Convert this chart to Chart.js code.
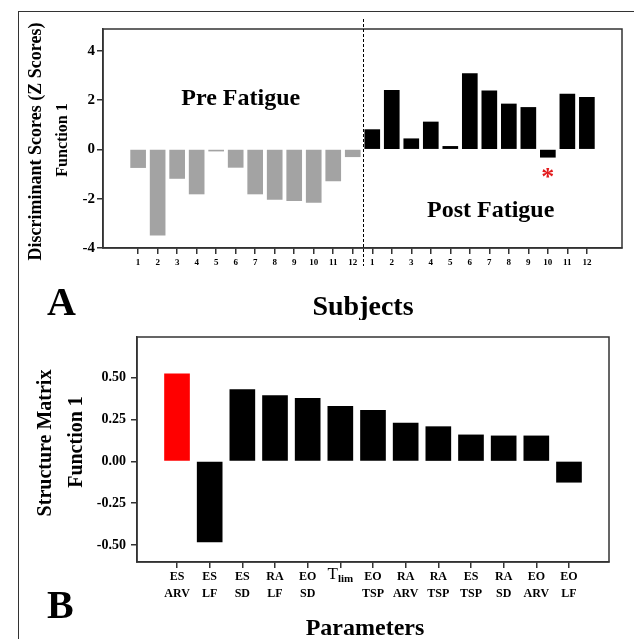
<!DOCTYPE html>
<html>
<head>
<meta charset="utf-8">
<script src="https://cdn.jsdelivr.net/npm/chart.js@4.4.1/dist/chart.umd.min.js"></script>
<style>
  html, body { margin: 0; padding: 0; background: #fff; }
  body { width: 634px; height: 639px; position: relative; overflow: hidden; }
  #frame { position: absolute; left: 18px; top: 11px; width: 700px; height: 700px;
           border-top: 1.5px solid #333; border-left: 1.5px solid #333; }
  canvas { position: absolute; left: 0; }
  #chart-a { top: 0; }
  #chart-b { top: 320px; }
</style>
</head>
<body>
<div id="frame"></div>
<canvas id="chart-a" width="634" height="320"></canvas>
<canvas id="chart-b" width="634" height="319"></canvas>
<script>
const FONT = '"Liberation Serif", "Times New Roman", serif';

// Panel A: discriminant scores per subject
const subjectLabels = ['1', '2', '3', '4', '5', '6', '7', '8', '9', '10', '11', '12'];
const preScores = [-0.74, -3.48, -1.18, -1.81, -0.07, -0.73, -1.81, -2.03, -2.08, -2.15, -1.28, -0.30];
const postScores = [0.80, 2.39, 0.43, 1.11, 0.12, 3.07, 2.37, 1.84, 1.70, -0.32, 2.24, 2.11];
const yTicksA = [-4, -2, 0, 2, 4];
const flaggedPost = 10; // subject marked with the red asterisk

// Panel B: structure matrix
const paramLabels = [
  ['ES', 'ARV'], ['ES', 'LF'], ['ES', 'SD'], ['RA', 'LF'], ['EO', 'SD'], ['T', 'lim'],
  ['EO', 'TSP'], ['RA', 'ARV'], ['RA', 'TSP'], ['ES', 'TSP'], ['RA', 'SD'], ['EO', 'ARV'], ['EO', 'LF']
];
const structureValues = [0.52, -0.48, 0.427, 0.391, 0.375, 0.327, 0.304, 0.228, 0.206, 0.157, 0.151, 0.151, -0.125];
const yTicksB = [-0.5, -0.25, 0, 0.25, 0.5];

const n = subjectLabels.length;
const preX = subjectLabels.map((_, i) => i + 1);
const postX = subjectLabels.map((_, i) => i + 1 + n);
const paramX = paramLabels.map((_, i) => i + 1);

function text(ctx, str, x, y, size, opts = {}) {
  ctx.save();
  ctx.font = `${opts.weight || 'bold'} ${size}px ${FONT}`;
  ctx.fillStyle = opts.color || '#000';
  ctx.textAlign = opts.align || 'center';
  ctx.textBaseline = opts.baseline || 'middle';
  ctx.translate(x, y);
  if (opts.rotate) ctx.rotate(opts.rotate);
  ctx.fillText(str, 0, 0);
  ctx.restore();
}

function frameBox(chart) {
  const { ctx, chartArea: a } = chart;
  ctx.save();
  ctx.strokeStyle = '#333';
  ctx.lineWidth = 1.5;
  ctx.strokeRect(a.left, a.top, a.right - a.left, a.bottom - a.top);
  ctx.restore();
}

const axisCommon = {
  offset: false,
  border: { display: true, color: '#333', width: 1.5 },
  grid: { display: true, offset: false, drawOnChartArea: false, drawTicks: true, tickLength: 6, color: '#333', lineWidth: 1.5 },
};

const panelA = {
  id: 'panelA',
  afterDraw(chart) {
    const { ctx, scales: { x, y } } = chart;
    frameBox(chart);
    // divider between pre and post
    ctx.save();
    ctx.strokeStyle = '#000';
    ctx.lineWidth = 1;
    ctx.setLineDash([3, 2]);
    const dx = Math.round(x.getPixelForValue(n + 0.5)) + 0.5;
    ctx.beginPath();
    ctx.moveTo(dx, 19);
    ctx.lineTo(dx, 266);
    ctx.stroke();
    ctx.restore();

    text(ctx, 'Pre Fatigue', x.getPixelForValue(6.26), y.getPixelForValue(2.04), 24);
    text(ctx, 'Post Fatigue', x.getPixelForValue(19.07), y.getPixelForValue(-2.49), 24);
    text(ctx, '*', x.getPixelForValue(n + flaggedPost), y.getPixelForValue(-0.95) + 6, 26, { color: '#e31a1c' });

    text(ctx, 'Discriminant Scores (Z Scores)', 36, 141.5, 18, { rotate: -Math.PI / 2 });
    text(ctx, 'Function 1', 63, 140, 16, { rotate: -Math.PI / 2 });
    text(ctx, 'A', 47, 315, 40, { align: 'left', baseline: 'alphabetic' });
    text(ctx, 'Subjects', 363, 315, 28, { baseline: 'alphabetic' });
  }
};

const panelB = {
  id: 'panelB',
  afterDraw(chart) {
    const { ctx, scales: { x } } = chart;
    frameBox(chart);
    paramLabels.forEach((lab, i) => {
      if (lab[0] !== 'T') return;
      const px = x.getPixelForValue(paramX[i]);
      ctx.save();
      ctx.font = `normal 17px ${FONT}`;
      const tw = ctx.measureText(lab[0]).width;
      ctx.font = `bold 11px ${FONT}`;
      const sw = ctx.measureText(lab[1]).width;
      ctx.restore();
      const left = px - (tw + sw) / 2;
      text(ctx, lab[0], left, 259, 17, { weight: 'normal', align: 'left', baseline: 'alphabetic' });
      text(ctx, lab[1], left + tw, 262, 11, { align: 'left', baseline: 'alphabetic' });
    });
    text(ctx, 'Structure Matrix', 45.7, 123, 20, { rotate: -Math.PI / 2 });
    text(ctx, 'Function 1', 77, 122, 20, { rotate: -Math.PI / 2 });
    text(ctx, 'B', 47, 298, 40, { align: 'left', baseline: 'alphabetic' });
    text(ctx, 'Parameters', 365, 315, 24, { baseline: 'alphabetic' });
  }
};

new Chart(document.getElementById('chart-a'), {
  type: 'bar',
  data: {
    datasets: [
      {
        label: 'Pre Fatigue',
        data: preScores.map((v, i) => ({ x: preX[i], y: v })),
        backgroundColor: '#a3a3a3',
        barThickness: 15,
        grouped: false,
      },
      {
        label: 'Post Fatigue',
        data: postScores.map((v, i) => ({ x: postX[i], y: v })),
        backgroundColor: '#000',
        barThickness: 15,
        grouped: false,
      },
    ],
  },
  options: {
    responsive: false,
    animation: false,
    layout: { padding: { left: 43, top: 29, right: 12, bottom: 0 } },
    plugins: { legend: { display: false }, title: { display: false }, tooltip: { enabled: false } },
    scales: {
      x: {
        ...axisCommon,
        type: 'linear',
        bounds: 'data',
        min: -0.8,
        max: 2 * n + 1.8,
        afterFit(s) { s.height = 72; },
        afterBuildTicks(s) { s.ticks = preX.concat(postX).map((v) => ({ value: v })); },
        ticks: {
          autoSkip: false,
          maxRotation: 0,
          padding: 3,
          color: '#000',
          font: { family: FONT, size: 9, weight: 'bold' },
          callback: (v) => subjectLabels[(v - 1) % n],
        },
      },
      y: {
        ...axisCommon,
        min: -4,
        max: 4.88,
        afterFit(s) { s.width = 60; },
        afterBuildTicks(s) { s.ticks = yTicksA.map((v) => ({ value: v })); },
        ticks: {
          padding: 2,
          color: '#000',
          font: { family: FONT, size: 15, weight: 'bold' },
          callback: (v) => String(v),
        },
      },
    },
  },
  plugins: [panelA],
});

new Chart(document.getElementById('chart-b'), {
  type: 'bar',
  data: {
    datasets: [
      {
        label: 'Structure Matrix',
        data: structureValues.map((v, i) => ({ x: paramX[i], y: v })),
        backgroundColor: (c) => (c.dataIndex === 0 ? '#ff0000' : '#000'),
        barThickness: 25,
      },
    ],
  },
  options: {
    responsive: false,
    animation: false,
    layout: { padding: { left: 77, top: 17, right: 25, bottom: 0 } },
    plugins: { legend: { display: false }, title: { display: false }, tooltip: { enabled: false } },
    scales: {
      x: {
        ...axisCommon,
        type: 'linear',
        bounds: 'data',
        min: -0.225,
        max: paramLabels.length + 1.225,
        afterFit(s) { s.height = 77; },
        afterBuildTicks(s) { s.ticks = paramX.map((v) => ({ value: v })); },
        ticks: {
          autoSkip: false,
          maxRotation: 0,
          padding: 0,
          color: '#000',
          font: { family: FONT, size: 12, weight: 'bold', lineHeight: '17px' },
          callback: (v) => {
            const lab = paramLabels[v - 1];
            return lab[0] === 'T' ? '' : lab;
          },
        },
      },
      y: {
        ...axisCommon,
        min: -0.6,
        max: 0.74,
        afterFit(s) { s.width = 60; },
        afterBuildTicks(s) { s.ticks = yTicksB.map((v) => ({ value: v })); },
        ticks: {
          padding: 5,
          color: '#000',
          font: { family: FONT, size: 14, weight: 'bold' },
          callback: (v) => v.toFixed(2),
        },
      },
    },
  },
  plugins: [panelB],
});
</script>
</body>
</html>
